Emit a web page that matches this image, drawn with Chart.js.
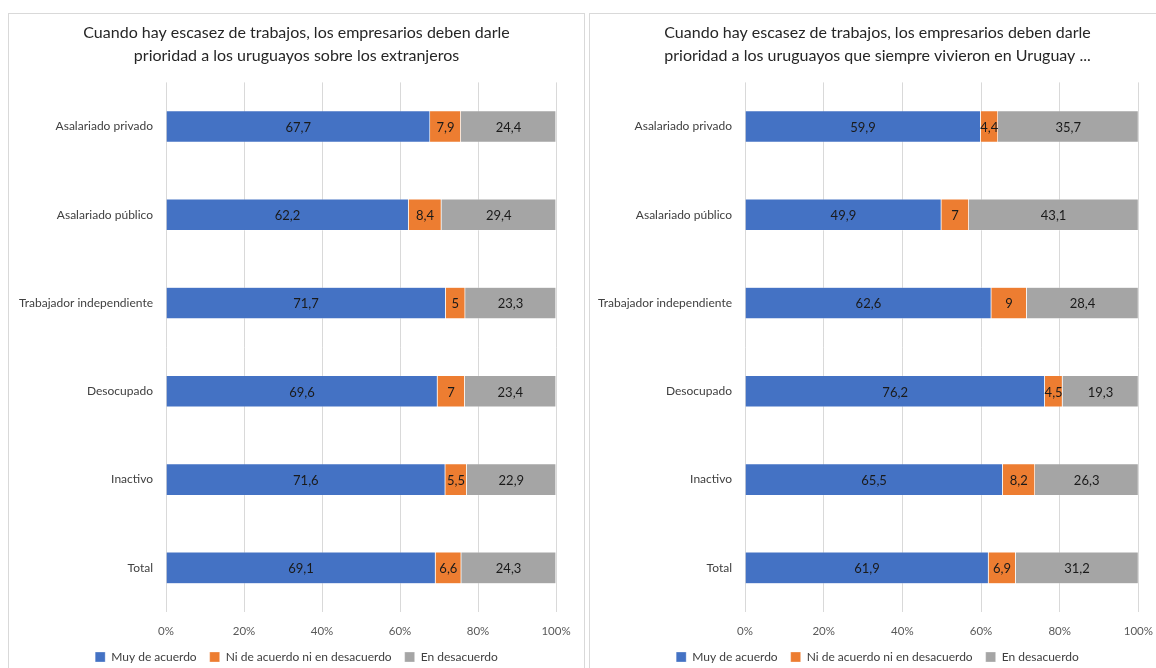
<!DOCTYPE html>
<html>
<head>
<meta charset="utf-8">
<script src="https://cdn.jsdelivr.net/npm/chart.js@4.4.0/dist/chart.umd.min.js"></script>
<style>
  body { margin: 0; background: #fff; width: 1156px; height: 668px; overflow: hidden; position: relative; }
  .panel { position: absolute; top: 13px; width: 575px; height: 660px; border: 1px solid #d9d9d9; }
  #panelLeft { left: 8px; }
  #panelRight { left: 589px; }
  canvas { display: block; }
</style>
</head>
<body>
<div class="panel" id="panelLeft"><canvas id="chartLeft" width="575" height="659"></canvas></div>
<div class="panel" id="panelRight"><canvas id="chartRight" width="575" height="659"></canvas></div>
<script>
"use strict";

const categories = ["Asalariado privado", "Asalariado público", "Trabajador independiente", "Desocupado", "Inactivo", "Total"];
const seriesNames = ["Muy de acuerdo", "Ni de acuerdo ni en desacuerdo", "En desacuerdo"];
const seriesColors = ["#4472c4", "#ed7d31", "#a5a5a5"];
const xTicks = [0, 20, 40, 60, 80, 100];

const leftTitle = ["Cuando hay escasez de trabajos, los empresarios deben darle", "prioridad a los uruguayos sobre los extranjeros"];
const leftMuy = [67.7, 62.2, 71.7, 69.6, 71.6, 69.1];
const leftNi = [7.9, 8.4, 5, 7, 5.5, 6.6];
const leftDes = [24.4, 29.4, 23.3, 23.4, 22.9, 24.3];

const rightTitle = ["Cuando hay escasez de trabajos, los empresarios deben darle", "prioridad a los uruguayos que siempre vivieron en Uruguay ..."];
const rightMuy = [59.9, 49.9, 62.6, 76.2, 65.5, 61.9];
const rightNi = [4.4, 7, 9, 4.5, 8.2, 6.9];
const rightDes = [35.7, 43.1, 28.4, 19.3, 26.3, 31.2];

const FONT = "Lato, 'Noto Sans', sans-serif";

// writes the value in the middle of each bar segment
const barLabels = {
    id: "barLabels",
    afterDatasetsDraw(chart) {
        let ctx = chart.ctx;
        ctx.save();
        ctx.font = "13px " + FONT;
        ctx.fillStyle = "#1a1a1a";
        ctx.textAlign = "center";
        ctx.textBaseline = "middle";
        chart.data.datasets.forEach(function(ds, i) {
            let meta = chart.getDatasetMeta(i);
            meta.data.forEach(function(bar, j) {
                let p = bar.getProps(["x", "y", "base"], true);
                let txt = String(ds.data[j]).replace(".", ",");
                ctx.fillText(txt, (p.x + p.base) / 2, p.y + 1);
            });
        });
        ctx.restore();
    }
};

function makeChart(id, title, muy, ni, des, axisWidth, rightSpace) {
    let values = [muy, ni, des];
    return new Chart(document.getElementById(id), {
        type: "bar",
        data: {
            labels: categories,
            datasets: values.map(function(v, i) {
                return {
                    label: seriesNames[i],
                    data: v,
                    backgroundColor: seriesColors[i],
                    borderColor: "rgba(255,255,255,0.5)",
                    borderWidth: 0.6,
                    barPercentage: 0.9,
                    categoryPercentage: 0.4
                };
            })
        },
        plugins: [barLabels],
        options: {
            indexAxis: "y",
            responsive: false,
            animation: false,
            scales: {
                x: {
                    stacked: true,
                    min: 0,
                    max: 100,
                    afterBuildTicks: function(axis) {
                        axis.ticks = xTicks.map(function(v) { return { value: v }; });
                    },
                    afterFit: function(axis) { axis.height = 26; },
                    ticks: {
                        callback: function(v) { return v + "%"; },
                        font: { family: FONT, size: 11.5 },
                        color: "#595959",
                        padding: 12,
                        maxRotation: 0
                    },
                    grid: { color: "#d9d9d9", drawTicks: false },
                    border: { display: false }
                },
                y: {
                    stacked: true,
                    afterFit: function(axis) { axis.width = axisWidth; },
                    ticks: {
                        font: { family: FONT, size: 12 },
                        color: "#404040",
                        padding: 5
                    },
                    grid: { display: false },
                    border: { display: false }
                },
                // empty axis on the right, keeps the plot narrower without shifting title and legend
                yRight: {
                    type: "category",
                    position: "right",
                    afterFit: function(axis) { axis.width = rightSpace; },
                    ticks: { display: false },
                    grid: { display: false },
                    border: { display: false }
                }
            },
            plugins: {
                title: {
                    display: true,
                    text: title,
                    color: "#262626",
                    font: { family: FONT, size: 16, weight: "normal", lineHeight: 1.45 },
                    padding: { top: 7, bottom: 15 }
                },
                legend: {
                    position: "bottom",
                    labels: {
                        font: { family: FONT, size: 12 },
                        color: "#404040",
                        boxWidth: 10,
                        boxHeight: 10,
                        padding: 13
                    }
                },
                tooltip: { enabled: false }
            }
        }
    });
}

makeChart("chartLeft", leftTitle, leftMuy, leftNi, leftDes, 157, 28);
makeChart("chartRight", rightTitle, rightMuy, rightNi, rightDes, 155, 26);
</script>
</body>
</html>
